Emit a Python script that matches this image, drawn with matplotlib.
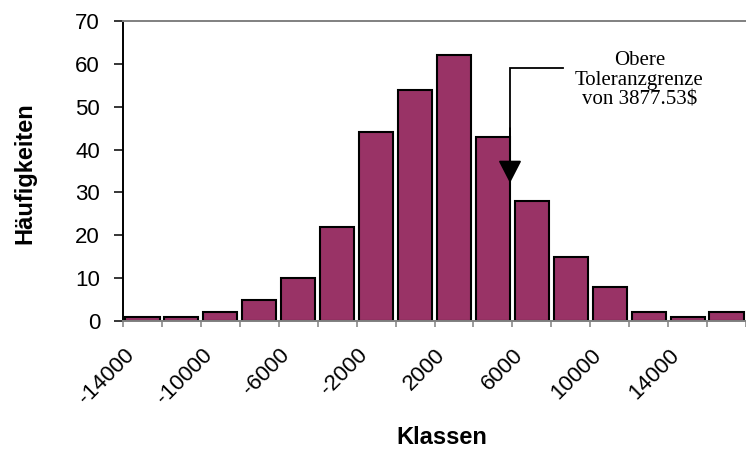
import numpy as np
import matplotlib.pyplot as plt
from matplotlib.transforms import ScaledTranslation

plt.rcParams['font.family'] = 'Liberation Sans'

# histogram classes (upper bound of each class) and their frequencies
class_upper = [-14000, -12000, -10000, -8000, -6000, -4000, -2000, 0,
               2000, 4000, 6000, 8000, 10000, 12000, 14000, 16000]
counts = [1, 1, 2, 5, 10, 22, 44, 54, 62, 43, 28, 15, 8, 2, 1, 2]
tick_labels = ['-14000', '-10000', '-6000', '-2000', '2000', '6000', '10000', '14000']
y_ticks = [0, 10, 20, 30, 40, 50, 60, 70]
upper_limit = 3877.53
class_width = 2000

fig = plt.figure(figsize=(7.46, 4.49), dpi=100)
ax = fig.add_axes([123/746, 128/449, 623/746, 300/449])

centers = np.array(class_upper) - class_width / 2
ax.bar(centers, counts, width=class_width * 0.875, color='#993366',
       edgecolor='black', linewidth=1.5, zorder=2)

ax.set_xlim(class_upper[0] - class_width, 15360)
ax.set_ylim(0, 70)

# axis lines
ax.spines['right'].set_visible(False)
ax.spines['left'].set_color('black')
ax.spines['left'].set_linewidth(1.4)
ax.spines['top'].set_color('#808080')
ax.spines['top'].set_linewidth(1.4)
ax.spines['bottom'].set_color('#808080')
ax.spines['bottom'].set_linewidth(1.4)

ax.set_yticks(y_ticks)
ax.tick_params(axis='y', length=6.5, width=1.1, color='black', pad=10,
               labelsize=16)

edges = np.arange(class_upper[0] - class_width, class_upper[-1] + 1, class_width)
ax.set_xticks(edges)
ax.set_xticklabels([])
ax.tick_params(axis='x', length=4.5, width=1.1, color='#808080')

# rotated class labels, every second class
shift = ScaledTranslation(-0.115, -0.31, fig.dpi_scale_trans)
label_centers = centers[::2]
for xc, lab in zip(label_centers, tick_labels):
    ax.text(xc, 0, lab, transform=ax.get_xaxis_transform() + shift,
            rotation=45, rotation_mode='anchor', ha='right', va='center',
            fontsize=16)

fig.text(24.5/746, 1 - 173/449, 'Häufigkeiten', rotation=90, ha='center',
         va='center', fontsize=17, fontweight='bold')
fig.text(442/746, 1 - 437/449, 'Klassen', ha='center', va='center',
         fontsize=17, fontweight='bold')

# tolerance limit marker
ax.plot([6601, upper_limit, upper_limit], [59, 59, 40], color='black',
        lw=1.3, zorder=3, solid_joinstyle='miter')
ax.annotate('', xy=(upper_limit, 32.2), xytext=(upper_limit, 45),
            arrowprops=dict(arrowstyle='-|>,head_length=1.4,head_width=0.72',
                            color='black', lw=1.3, shrinkA=0, shrinkB=0),
            zorder=3)
ax.text(10527, 56.2, 'Obere\nToleranzgrenze\nvon 3877.53$', ha='center',
        va='center', ma='center', fontsize=15, family='Liberation Serif',
        linespacing=1.05)

fig.savefig('out.png', dpi=100)
